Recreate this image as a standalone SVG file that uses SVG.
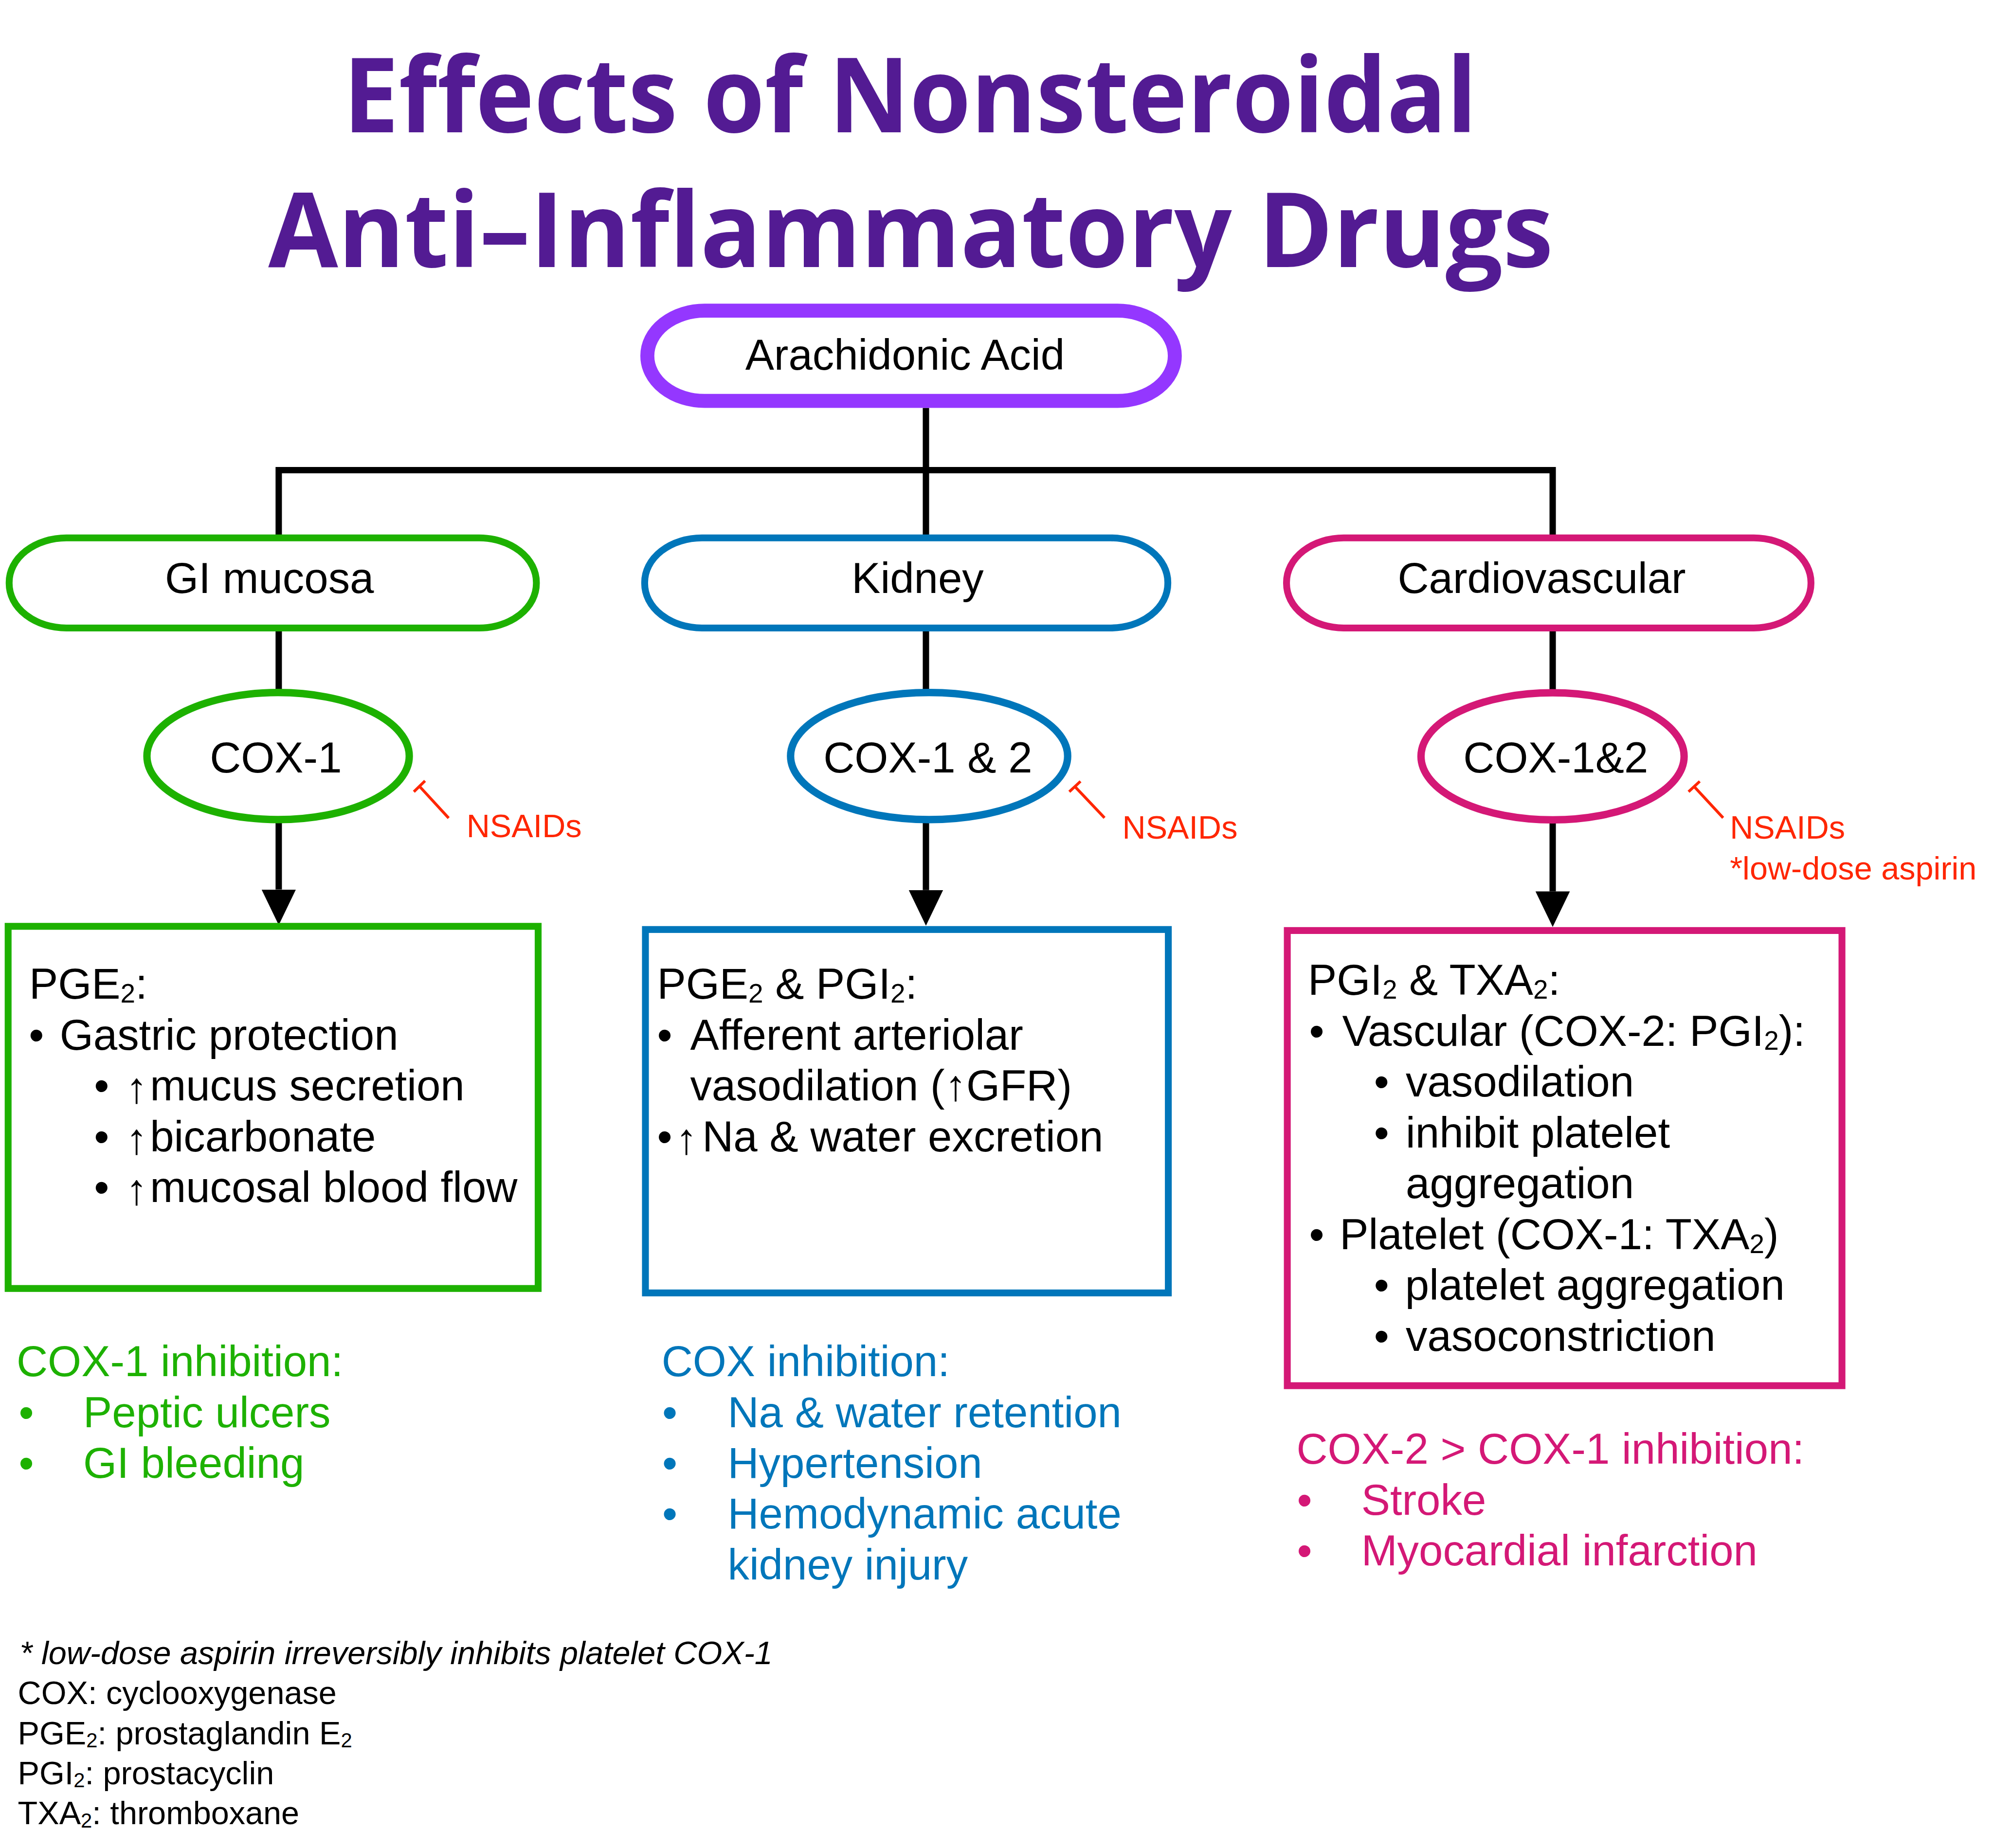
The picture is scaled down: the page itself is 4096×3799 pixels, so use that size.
<svg xmlns="http://www.w3.org/2000/svg" width="4096" height="3799" viewBox="0 0 4096 3799">
<defs>
<style>
.t{font-family:"Liberation Sans",Arial,"DejaVu Sans",sans-serif;font-size:34px;fill:#000}
.up{font-weight:700}
.title{font-family:"Open Sans","Lato","DejaVu Sans",sans-serif;font-weight:700;font-size:82px;fill:#531B93}
.fn{font-family:"Liberation Sans",Arial,sans-serif;font-size:25.5px;fill:#000}
.ns{font-family:"Liberation Sans",Arial,sans-serif;font-size:25.5px;fill:#FF2600}
.sub{font-size:21px}
.fsub{font-size:16px}
.g{fill:#1DB100}.b{fill:#0076BA}.m{fill:#D41876}
.conn{stroke:#000;stroke-width:5;fill:none}
.inh{stroke:#FF2600;stroke-width:2.2;fill:none}
.box{fill:#fff;stroke-width:5.4}
</style>
<marker id="ah" markerUnits="userSpaceOnUse" markerWidth="28" markerHeight="27" refX="0" refY="13.5" orient="auto" viewBox="0 0 28 27">
<path d="M0,0 L28,13.5 L0,27 Z" fill="#000"/>
</marker>
</defs>
<rect width="4096" height="3799" fill="#fff"/>
<g transform="scale(2.6122)">
<g id="title">
<text class="title" x="270" y="104" textLength="892" lengthAdjust="spacingAndGlyphs">Effects of Nonsteroidal</text>
<text class="title" x="211" y="210" textLength="1011" lengthAdjust="spacingAndGlyphs">Anti–Inflammatory Drugs</text>
</g>

<g id="connectors">
<path class="conn" d="M728.5,321 V423"/>
<path class="conn" d="M219.3,370 H1221.6"/>
<path class="conn" d="M219.3,367.5 V423"/>
<path class="conn" d="M1221.6,367.5 V423"/>
<path class="conn" d="M219.3,494 V545"/>
<path class="conn" d="M728.5,494 V545"/>
<path class="conn" d="M1221.6,494 V545"/>
<path class="conn" d="M219.3,645 V700" marker-end="url(#ah)"/>
<path class="conn" d="M728.5,645 V700.5" marker-end="url(#ah)"/>
<path class="conn" d="M1221.6,645 V701.5" marker-end="url(#ah)"/>
<g id="inhibitors">
<path class="inh" d="M353,643.8 L330,618.8 M325.6,623.1 L334.4,614.5"/>
<path class="inh" d="M869,643.6 L845.7,619 M841.3,623.1 L850.1,614.9"/>
<path class="inh" d="M1355.7,643.6 L1332.9,619 M1328.5,623.1 L1337.3,614.9"/>
</g>
</g>

<g id="arachidonic">
<rect x="509.3" y="244.5" width="415" height="71" rx="45" ry="35.5" fill="#fff" stroke="#9437FF" stroke-width="11"/>
<text class="t" x="712" y="291" text-anchor="middle">Arachidonic Acid</text>
</g>

<g id="gi-mucosa">
<rect class="box" x="7.2" y="423.3" width="414.8" height="70.9" rx="45" ry="35" stroke="#1DB100"/>
<text class="t" x="212" y="466.5" text-anchor="middle">GI mucosa</text>
</g>
<g id="kidney">
<rect class="box" x="507.2" y="423.3" width="411.6" height="70.9" rx="45" ry="35" stroke="#0076BA"/>
<text class="t" x="722" y="466.5" text-anchor="middle">Kidney</text>
</g>
<g id="cardiovascular">
<rect class="box" x="1012.2" y="423.3" width="412.6" height="70.9" rx="45" ry="35" stroke="#D41876"/>
<text class="t" x="1213" y="466.5" text-anchor="middle">Cardiovascular</text>
</g>

<g id="cox1">
<ellipse cx="218.8" cy="595" rx="103.2" ry="50" fill="#fff" stroke="#1DB100" stroke-width="5.8"/>
<text class="t" x="217" y="608" text-anchor="middle">COX-1</text>
</g>
<g id="cox12-kidney">
<ellipse cx="731" cy="595" rx="109" ry="50" fill="#fff" stroke="#0076BA" stroke-width="5.8"/>
<text class="t" x="730" y="608" text-anchor="middle">COX-1 &amp; 2</text>
</g>
<g id="cox12-cardio">
<ellipse cx="1221.5" cy="595.2" rx="103.5" ry="50" fill="#fff" stroke="#D41876" stroke-width="5.8"/>
<text class="t" x="1224" y="608" text-anchor="middle">COX-1&amp;2</text>
</g>

<g id="nsaid-labels">
<text class="ns" x="367" y="659">NSAIDs</text>
<text class="ns" x="883" y="660">NSAIDs</text>
<text class="ns" x="1361" y="660">NSAIDs</text>
<text class="ns" x="1361" y="692">*low-dose aspirin</text>
</g>

<g id="gi-effects">
<rect class="box" x="6.4" y="729" width="417" height="285" stroke="#1DB100"/>
<text class="t" x="23" y="786">PGE<tspan class="sub" dy="3">2</tspan><tspan dy="-3">:</tspan></text>
<text class="t" x="22.7" y="826">•</text>
<text class="t" x="47" y="826">Gastric protection</text>
<text class="t" x="74" y="866">•</text><text class="t up" x="99" y="868">↑</text><text class="t" x="118" y="866">mucus secretion</text>
<text class="t" x="74" y="906">•</text><text class="t up" x="99" y="908">↑</text><text class="t" x="118" y="906">bicarbonate</text>
<text class="t" x="74" y="946">•</text><text class="t up" x="99" y="948">↑</text><text class="t" x="118" y="946">mucosal blood flow</text>
</g>

<g id="kidney-effects">
<rect class="box" x="507.8" y="731.5" width="411.4" height="286" stroke="#0076BA"/>
<text class="t" x="517" y="786">PGE<tspan class="sub" dy="3">2</tspan><tspan dy="-3"> &amp; PGI</tspan><tspan class="sub" dy="3">2</tspan><tspan dy="-3">:</tspan></text>
<text class="t" x="517" y="826">•</text>
<text class="t" x="543" y="826">Afferent arteriolar</text>
<text class="t" x="543" y="866">vasodilation (<tspan class="up">↑</tspan>GFR)</text>
<text class="t" x="517" y="906">•</text><text class="t up" x="531.5" y="908">↑</text><text class="t" x="552.5" y="906">Na &amp; water excretion</text>
</g>

<g id="cardio-effects">
<rect class="box" x="1012.8" y="732.3" width="436.4" height="358.2" stroke="#D41876"/>
<text class="t" x="1029" y="783">PGI<tspan class="sub" dy="3">2</tspan><tspan dy="-3"> &amp; TXA</tspan><tspan class="sub" dy="3">2</tspan><tspan dy="-3">:</tspan></text>
<text class="t" x="1030" y="823">•</text>
<text class="t" x="1056" y="823">Vascular (COX-2: PGI<tspan class="sub" dy="3">2</tspan><tspan dy="-3">):</tspan></text>
<text class="t" x="1081" y="863">•</text><text class="t" x="1106" y="863">vasodilation</text>
<text class="t" x="1081" y="903">•</text><text class="t" x="1106" y="903">inhibit platelet</text>
<text class="t" x="1106" y="943">aggregation</text>
<text class="t" x="1030" y="983">•</text>
<text class="t" x="1054" y="983">Platelet (COX-1: TXA<tspan class="sub" dy="3">2</tspan><tspan dy="-3">)</tspan></text>
<text class="t" x="1081" y="1023">•</text><text class="t" x="1105.5" y="1023">platelet aggregation</text>
<text class="t" x="1081" y="1063">•</text><text class="t" x="1106" y="1063">vasoconstriction</text>
</g>

<g id="gi-inhibition">
<text class="t g" x="13" y="1083">COX-1 inhibition:</text>
<text class="t g" x="14.7" y="1123">•</text><text class="t g" x="65.5" y="1123">Peptic ulcers</text>
<text class="t g" x="14.7" y="1163">•</text><text class="t g" x="65.5" y="1163">GI bleeding</text>
</g>

<g id="kidney-inhibition">
<text class="t b" x="520.5" y="1083">COX inhibition:</text>
<text class="t b" x="521" y="1123">•</text><text class="t b" x="572.5" y="1123">Na &amp; water retention</text>
<text class="t b" x="521" y="1163">•</text><text class="t b" x="572.5" y="1163">Hypertension</text>
<text class="t b" x="521" y="1203">•</text><text class="t b" x="572.5" y="1203">Hemodynamic acute</text>
<text class="t b" x="572.5" y="1243">kidney injury</text>
</g>

<g id="cardio-inhibition">
<text class="t m" x="1020" y="1152">COX-2 &gt; COX-1 inhibition:</text>
<text class="t m" x="1020.4" y="1192">•</text><text class="t m" x="1071" y="1192">Stroke</text>
<text class="t m" x="1020.4" y="1232">•</text><text class="t m" x="1071" y="1232">Myocardial infarction</text>
</g>

<g id="footnotes">
<text class="fn" x="15.5" y="1309.5" font-style="italic">* low-dose aspirin irreversibly inhibits platelet COX-1</text>
<text class="fn" x="14" y="1341">COX: cyclooxygenase</text>
<text class="fn" x="14" y="1372.6">PGE<tspan class="fsub" dy="2.5">2</tspan><tspan dy="-2.5">: prostaglandin E</tspan><tspan class="fsub" dy="2.5">2</tspan></text>
<text class="fn" x="14" y="1404">PGI<tspan class="fsub" dy="2.5">2</tspan><tspan dy="-2.5">: prostacyclin</tspan></text>
<text class="fn" x="14" y="1435.7">TXA<tspan class="fsub" dy="2.5">2</tspan><tspan dy="-2.5">: thromboxane</tspan></text>
</g>
</g>
</svg>
